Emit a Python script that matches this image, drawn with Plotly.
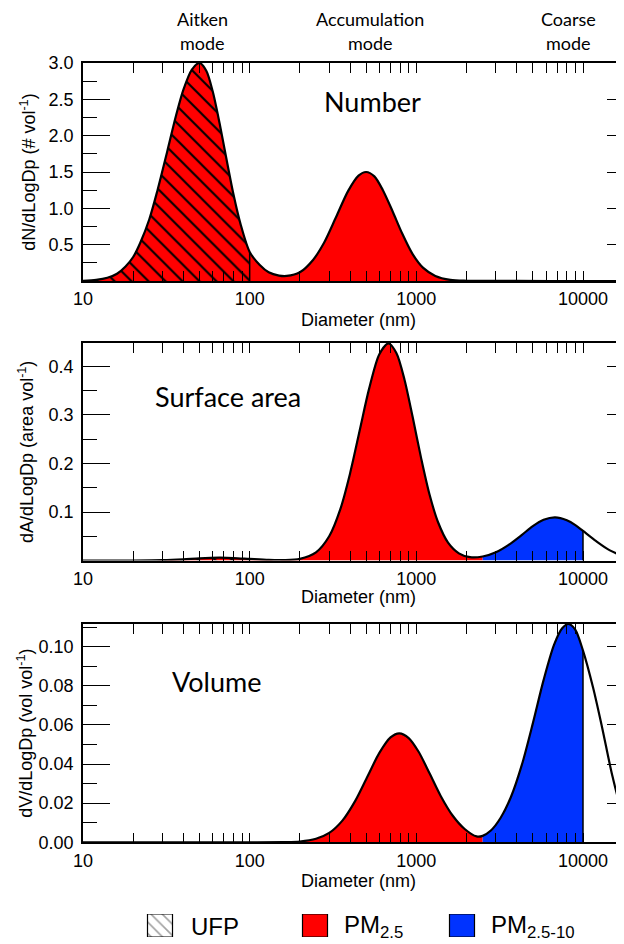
import math
import plotly.graph_objects as go

# ---------------- values ----------------
# Number distribution (dN/dLogDp) vs diameter (nm)
d_number = [10, 12, 14, 16, 18, 20, 22, 25, 28, 32, 36, 40, 45, 50, 55, 60, 66, 72, 80, 88,
            100, 115, 130, 150, 167, 200, 240, 280, 330, 390, 450, 500, 560, 630, 720, 820,
            950, 1100, 1300, 1600, 2000, 2500, 4000, 10000, 20000]
number = [0.003, 0.015, 0.044, 0.10, 0.20, 0.33, 0.52, 0.85, 1.25, 1.78, 2.26, 2.63, 2.91, 3.00,
          2.89, 2.61, 2.17, 1.72, 1.19, 0.79, 0.40, 0.22, 0.12, 0.075, 0.07, 0.12, 0.29, 0.53,
          0.88, 1.24, 1.45, 1.50, 1.44, 1.25, 0.96, 0.66, 0.37, 0.18, 0.07, 0.016, 0.003, 0.001,
          0.0005, 0.0, 0.0]

# Surface-area distribution (dA/dLogDp)
d_area = [10, 20, 30, 40, 50, 66, 80, 100, 130, 160, 200, 250, 300, 350, 400, 460, 520, 600,
          680, 760, 850, 950, 1070, 1200, 1350, 1550, 1800, 2100, 2500, 3000, 3600, 4300, 5000,
          5800, 6800, 8000, 9000, 10000, 12000, 14500, 17000, 20000]
area = [0.0, 0.0001, 0.0008, 0.0026, 0.0047, 0.0060, 0.0053, 0.0034, 0.0013, 0.0010, 0.0035,
        0.017, 0.050, 0.106, 0.179, 0.272, 0.353, 0.425, 0.447, 0.427, 0.372, 0.296, 0.210,
        0.136, 0.079, 0.037, 0.015, 0.007, 0.0084, 0.0172, 0.033, 0.053, 0.071, 0.084, 0.089,
        0.083, 0.073, 0.061, 0.040, 0.021, 0.011, 0.005]

# Volume distribution (dV/dLogDp)
d_volume = [10, 100, 160, 200, 250, 300, 360, 430, 510, 600, 700, 790, 900, 1030, 1200, 1400,
            1650, 1950, 2300, 2500, 2800, 3200, 3700, 4300, 5000, 5800, 6700, 7500, 8200, 9000,
            10000, 11500, 13000, 15000, 17000, 20000]
volume = [0.0, 0.0, 0.0001, 0.0004, 0.0018, 0.0048, 0.0111, 0.0212, 0.0338, 0.0457, 0.0536,
          0.0557, 0.0533, 0.0464, 0.0353, 0.0237, 0.0137, 0.0068, 0.0030, 0.0033, 0.0060, 0.0124,
          0.0233, 0.0397, 0.0608, 0.0829, 0.1009, 0.1094, 0.1116, 0.1086, 0.0980, 0.0790, 0.0590,
          0.0340, 0.0170, 0.0060]

# size classes (nm)
class_names = ["UFP", "PM<sub>2.5</sub>", "PM<sub>2.5-10</sub>"]
class_bounds = [(10, 100), (100, 2500), (2500, 10000)]

x_tick_vals = [10, 100, 1000, 10000]
x_tick_text = ["10", "100", "1000", "10000"]
x_title = "Diameter (nm)"

y_tick_vals = [[0.5, 1.0, 1.5, 2.0, 2.5, 3.0],
               [0.1, 0.2, 0.3, 0.4],
               [0.00, 0.02, 0.04, 0.06, 0.08, 0.10]]
y_tick_text = [["0.5", "1.0", "1.5", "2.0", "2.5", "3.0"],
               ["0.1", "0.2", "0.3", "0.4"],
               ["0.00", "0.02", "0.04", "0.06", "0.08", "0.10"]]
y_minor_step = [0.25, 0.05, 0.01]
y_max = [3.0, 0.448, 0.1116]

mode_names = ["Aitken", "Accumulation", "Coarse"]
mode_diam = [52, 530, 8200]

panel_names = ["Number", "Surface area", "Volume"]
y_titles = ["dN/dLogDp (# vol<sup>-1</sup>)",
            "dA/dLogDp (area vol<sup>-1</sup>)",
            "dV/dLogDp (vol vol<sup>-1</sup>)"]

# ---------------- layout constants ----------------
OFF = 8                      # the page places the figure 8 px from the window corner
W, H = 624 - OFF, 944 - OFF
ML = 83 - OFF
PW = W - ML
RED = "#ff0000"
BLUE = "#0033ff"
SANS = "Liberation Sans, Arial, sans-serif"
HUMAN = "Lato, Open Sans, sans-serif"
X_LOG_MAX = 4.246

# positions below are given in window pixels
panel_px = [(63, 281), (343, 560.6), (624, 842.3)]   # top, bottom
x_title_px_y = [320, 597, 881]
x_title_px_x = 358
title_standoff = [8, 10, 1]
panel_label_px = [(372, 102), (228, 396), (216, 681)]
mode_line_px_y = (19, 43)
legend_px_x = [160, 315, 462]
legend_text_px_x = [189, 342, 489]
legend_px_y = (914, 937)


def px_y(py):
    return 1 - (py - OFF) / H


def px_x(px):
    return (px - OFF - ML) / PW


def seg(d, v, lo, hi):
    xs = [x for x in d if lo <= x <= hi]
    ys = [y for x, y in zip(d, v) if lo <= x <= hi]
    return xs, ys


fig = go.Figure()

panels = [(d_number, number), (d_area, area), (d_volume, volume)]
fill_styles = [
    dict(fillcolor=RED, fillpattern=dict(shape="\\", fgcolor="black", bgcolor=RED,
                                         size=12, solidity=0.17, fillmode="replace")),
    dict(fillcolor=RED),
    dict(fillcolor=BLUE),
]

for i, (d, v) in enumerate(panels):
    xa = "x" if i == 0 else f"x{i + 1}"
    ya = "y" if i == 0 else f"y{i + 1}"
    for (lo, hi), st in zip(class_bounds, fill_styles):
        xs, ys = seg(d, v, lo, hi)
        fig.add_trace(go.Scatter(x=xs, y=ys, mode="lines",
                                 line=dict(width=0, shape="spline", smoothing=0.8),
                                 fill="tozeroy", xaxis=xa, yaxis=ya,
                                 hoverinfo="skip", showlegend=False, **st))
    for b in (100, 10000):
        vb = v[d.index(b)]
        fig.add_trace(go.Scatter(x=[b, b], y=[0, vb], mode="lines",
                                 line=dict(color="black", width=1.5),
                                 xaxis=xa, yaxis=ya, hoverinfo="skip", showlegend=False))
    fig.add_trace(go.Scatter(x=d, y=v, mode="lines",
                             line=dict(color="black", width=2.2, shape="spline", smoothing=0.8),
                             xaxis=xa, yaxis=ya, hoverinfo="skip", showlegend=False))
    # invisible copy so that the right-hand tick axis is drawn
    fig.add_trace(go.Scatter(x=d, y=v, mode="lines", line=dict(width=0), opacity=0,
                             xaxis=xa, yaxis=f"y{i + 5}", hoverinfo="skip", showlegend=False))

# legend swatches drawn as bars on a helper axis (1 data unit = 1 window px)
fig.add_trace(go.Bar(x=legend_px_x, y=[1, 1, 1], width=25,
                     marker=dict(color=["white", RED, BLUE],
                                 pattern=dict(shape=["\\", "", ""], fgcolor="black",
                                              size=8, solidity=0.2),
                                 line=dict(color="black", width=1.2)),
                     xaxis="x4", yaxis="y4", hoverinfo="skip", showlegend=False))

layout = dict(
    width=W, height=H,
    margin=dict(l=ML, r=0, t=0, b=0, pad=0),
    paper_bgcolor="white", plot_bgcolor="white",
    showlegend=False,
    font=dict(family=SANS, size=18, color="black"),
)

annotations = []
for i in range(3):
    top, bot = panel_px[i]
    xk = "xaxis" if i == 0 else f"xaxis{i + 1}"
    yk = "yaxis" if i == 0 else f"yaxis{i + 1}"
    ya = "y" if i == 0 else f"y{i + 1}"
    xa = "x" if i == 0 else f"x{i + 1}"
    layout[xk] = dict(
        type="log", range=[1, X_LOG_MAX], domain=[0, 1], anchor=ya,
        showline=True, linecolor="black", linewidth=1.5, mirror="allticks",
        ticks="inside", ticklen=10, tickwidth=1.3, tickcolor="black",
        tickmode="array", tickvals=x_tick_vals, ticktext=x_tick_text,
        minor=dict(ticks="inside", ticklen=5, tickwidth=1, tickcolor="black", dtick="D1"),
        showgrid=False, zeroline=False, automargin=False,
        tickfont=dict(family=SANS, size=18, color="black"),
        ticklabelstandoff=1,
    )
    layout[yk] = dict(
        range=[0, y_max[i]], domain=[px_y(bot), px_y(top)], anchor=xa,
        showline=True, linecolor="black", linewidth=1.5, mirror=False,
        ticks="inside", ticklen=27, tickwidth=1.3, tickcolor="black",
        tickmode="array", tickvals=y_tick_vals[i], ticktext=y_tick_text[i],
        minor=dict(ticks="inside", ticklen=14, tickwidth=1.2, tickcolor="black",
                   tick0=0, dtick=y_minor_step[i]),
        showgrid=False, zeroline=False, automargin=False,
        tickfont=dict(family=SANS, size=18, color="black"),
        ticklabelstandoff=4,
        title=dict(text=y_titles[i], font=dict(family=SANS, size=18, color="black"),
                   standoff=title_standoff[i]),
    )
    # ticks of the (cropped) right-hand axis
    layout[f"yaxis{i + 5}"] = dict(
        range=[0, y_max[i]], overlaying=ya, side="right", anchor=xa,
        showline=False, ticks="inside", ticklen=17, tickwidth=1.3, tickcolor="black",
        tickmode="array", tickvals=y_tick_vals[i], showticklabels=False,
        minor=dict(ticks="inside", ticklen=4, tickwidth=1.2, tickcolor="black",
                   tick0=0, dtick=y_minor_step[i]),
        showgrid=False, zeroline=False, automargin=False,
    )
    annotations.append(dict(text=x_title, xref="paper", yref="paper",
                            x=px_x(x_title_px_x), y=px_y(x_title_px_y[i]),
                            xanchor="center", yanchor="middle", showarrow=False,
                            font=dict(family=SANS, size=18, color="black")))
    lx, ly = panel_label_px[i]
    annotations.append(dict(text=panel_names[i], xref="paper", yref="paper",
                            x=px_x(lx), y=px_y(ly), xanchor="center", yanchor="middle",
                            showarrow=False, font=dict(family=HUMAN, size=27, color="black")))

# helper axes for the legend
layout["xaxis4"] = dict(range=[ML + OFF, W + OFF], domain=[0, 1], anchor="y4", visible=False,
                        fixedrange=True)
layout["yaxis4"] = dict(range=[0, 1], domain=[px_y(legend_px_y[1]), px_y(legend_px_y[0])],
                        anchor="x4", visible=False, fixedrange=True)

for name, tx in zip(class_names, legend_text_px_x):
    annotations.append(dict(text=name, xref="x4", yref="y4", x=tx, y=0.45,
                            xanchor="left", yanchor="middle", showarrow=False,
                            font=dict(family=SANS, size=24, color="black")))

for name, dm in zip(mode_names, mode_diam):
    for txt, py in zip((name, "mode"), mode_line_px_y):
        annotations.append(dict(text=txt, xref="x", yref="paper", x=math.log10(dm), y=px_y(py),
                                xanchor="center", yanchor="middle", showarrow=False,
                                font=dict(family=HUMAN, size=18, color="black")))

layout["annotations"] = annotations
fig.update_layout(**layout)
fig.write_html("out.html")
